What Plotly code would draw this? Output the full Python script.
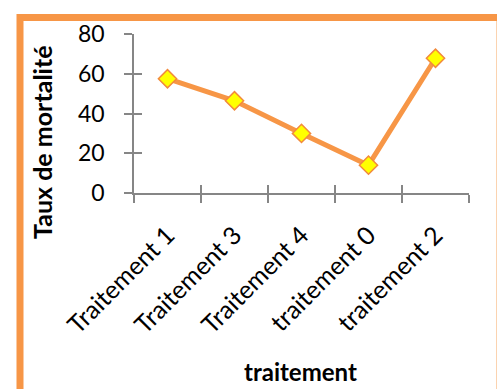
import plotly.graph_objects as go

# Mortality rate by treatment
categories = ["Traitement 1", "Traitement 3", "Traitement 4", "traitement 0", "traitement 2"]
mortalite = [57.5, 46.4, 30.0, 14.0, 67.8]
y_ticks = [0, 20, 40, 60, 80]

ORANGE = "#F79646"
GRID_GREY = "#868686"
FONT = "Lato, 'Open Sans', sans-serif"

# plot area in pixels
W, H = 497, 389
L, R, T, B = 134, 28, 34, 196
pw, ph = W - L - R, H - T - B

def px_x(v):
    return (v - L) / pw

def px_y(v):
    return (H - B - v) / ph

fig = go.Figure()
fig.add_trace(go.Scatter(
    x=categories, y=mortalite, mode="lines+markers",
    line=dict(color=ORANGE, width=5),
    marker=dict(symbol="diamond", size=14, color="#FFFF00",
                line=dict(color="#F28A3C", width=1.5)),
    showlegend=False, hoverinfo="x+y",
))
# invisible companion trace carrying the inner half of the crossing ticks
fig.add_trace(go.Scatter(x=[0], y=[0], xaxis="x2", yaxis="y2",
                         mode="markers", marker=dict(opacity=0),
                         showlegend=False, hoverinfo="skip"))

axis_common = dict(showline=True, linecolor=GRID_GREY, linewidth=1.5,
                   tickcolor=GRID_GREY, tickwidth=1.5, ticklen=8,
                   showgrid=False, zeroline=False)

fig.update_layout(
    width=W, height=H,
    margin=dict(l=L, r=R, t=T, b=B, autoexpand=False),
    paper_bgcolor="white", plot_bgcolor="white",
    font=dict(family=FONT, color="black"),
    xaxis=dict(**axis_common, type="category", range=[-0.5, 4.5],
               ticks="outside", tickson="boundaries", tickangle=-45,
               tickfont=dict(size=25, family=FONT), ticklabelstandoff=16,
               automargin=False),
    yaxis=dict(**axis_common, range=[0, 80], tickvals=y_ticks, ticks="outside",
               tickfont=dict(size=23, family=FONT), ticklabelstandoff=15,
               automargin=False),
    xaxis2=dict(**axis_common, overlaying="x", anchor="y", range=[-0.5, 4.5],
                tick0=-0.5, dtick=1, ticks="inside", showticklabels=False,
                fixedrange=True),
    yaxis2=dict(**axis_common, overlaying="y", anchor="x", range=[0, 80],
                tickvals=y_ticks, ticks="inside", showticklabels=False,
                fixedrange=True),
    annotations=[
        dict(text="<b>traitement</b>", xref="paper", yref="paper",
             x=px_x(300), y=px_y(371), showarrow=False,
             xanchor="center", yanchor="middle", font=dict(size=24, family=FONT)),
        dict(text="<b>Taux de mortalité</b>", xref="paper", yref="paper",
             x=px_x(42), y=px_y(142), showarrow=False, textangle=-90,
             xanchor="center", yanchor="middle", font=dict(size=25, family=FONT)),
    ],
    shapes=[
        dict(type="rect", xref="paper", yref="paper",
             x0=px_x(20), x1=px_x(506), y0=px_y(400), y1=px_y(17.5),
             line=dict(color=ORANGE, width=7), layer="below"),
        # faint right edge of the frame
        dict(type="line", xref="paper", yref="paper",
             x0=px_x(496.5), x1=px_x(496.5), y0=px_y(400), y1=px_y(21),
             line=dict(color="#FBD3B0", width=1), layer="below"),
    ],
)

fig.write_html("out.html")
